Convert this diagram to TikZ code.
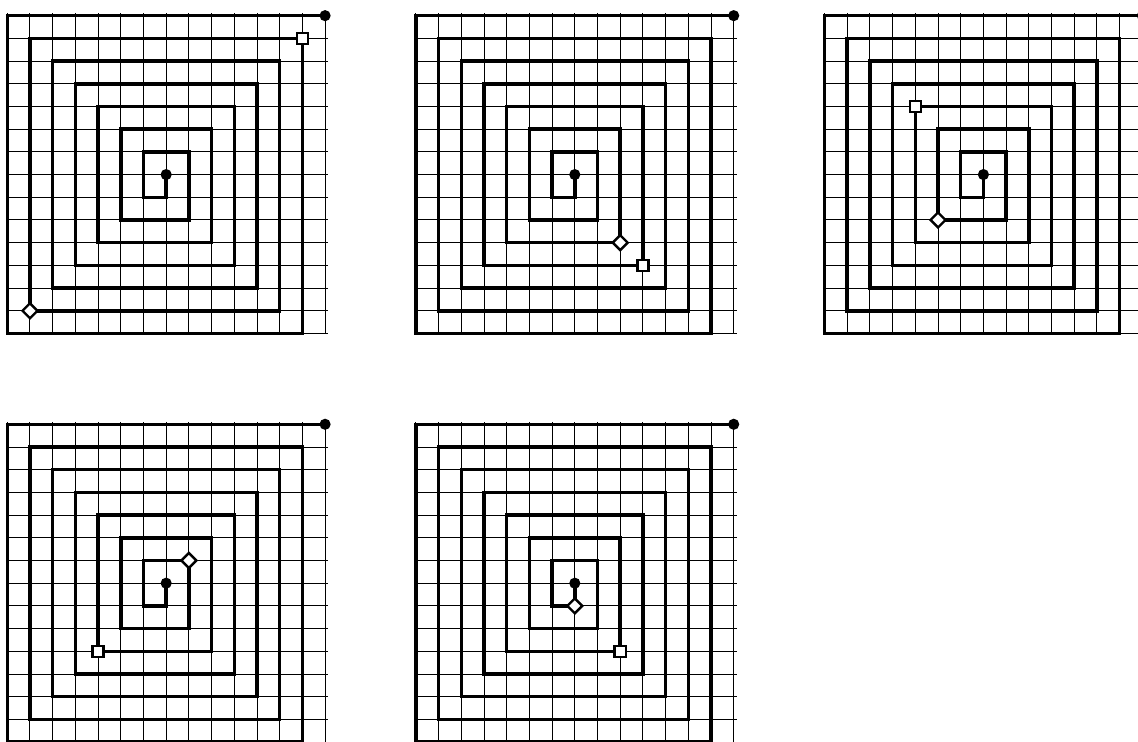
\documentclass[tikz,border=0pt]{standalone}
\begin{document}
\begin{tikzpicture}[x=0.5cm, y=0.5cm,
    gridline/.style={line width=0.6pt},
    spiralline/.style={line width=2.2pt},
    endpoint/.style={circle, fill=black, inner sep=0pt, minimum size=7pt},
    sqmark/.style={draw, line width=1.5pt, fill=white, inner sep=0pt, minimum size=7pt},
    dmmark/.style={sqmark, minimum size=6.6pt, rotate=45}]

      \useasboundingbox (-0.32,-17.98) rectangle (49.81,14.69);

      % panel offset / square mark / diamond mark
      \foreach \px/\py/\sx/\sy/\dx/\dy [count=\k] in
          {0/0/13/13/1/1, 18/0/10/3/9/4, 36/0/4/10/5/5,
           0/-18/4/4/8/8, 18/-18/9/4/7/6} {
        \begin{scope}[shift={(\px,\py)}]
          \draw[gridline, step=0.5cm] (0,0) grid (14.15,14.1);
          \draw[spiralline] (7,7) -- (7,6) -- (6,6) -- (6,8) -- (8,8)
            -- (8,5) -- (5,5) -- (5,9) -- (9,9) -- (9,4) -- (4,4)
            -- (4,10) -- (10,10) -- (10,3) -- (3,3) -- (3,11) -- (11,11)
            -- (11,2) -- (2,2) -- (2,12) -- (12,12) -- (12,1) -- (1,1)
            -- (1,13) -- (13,13) -- (13,0) -- (0,0) -- (0,14) -- (14,14);
          \node[endpoint] (c\k) at (7,7) {};
          \node[endpoint] (e\k) at (14,14) {};
          \node[sqmark] (s\k) at (\sx,\sy) {};
          \node[dmmark] (d\k) at (\dx,\dy) {};
        \end{scope}
      }

    \end{tikzpicture}
\end{document}
